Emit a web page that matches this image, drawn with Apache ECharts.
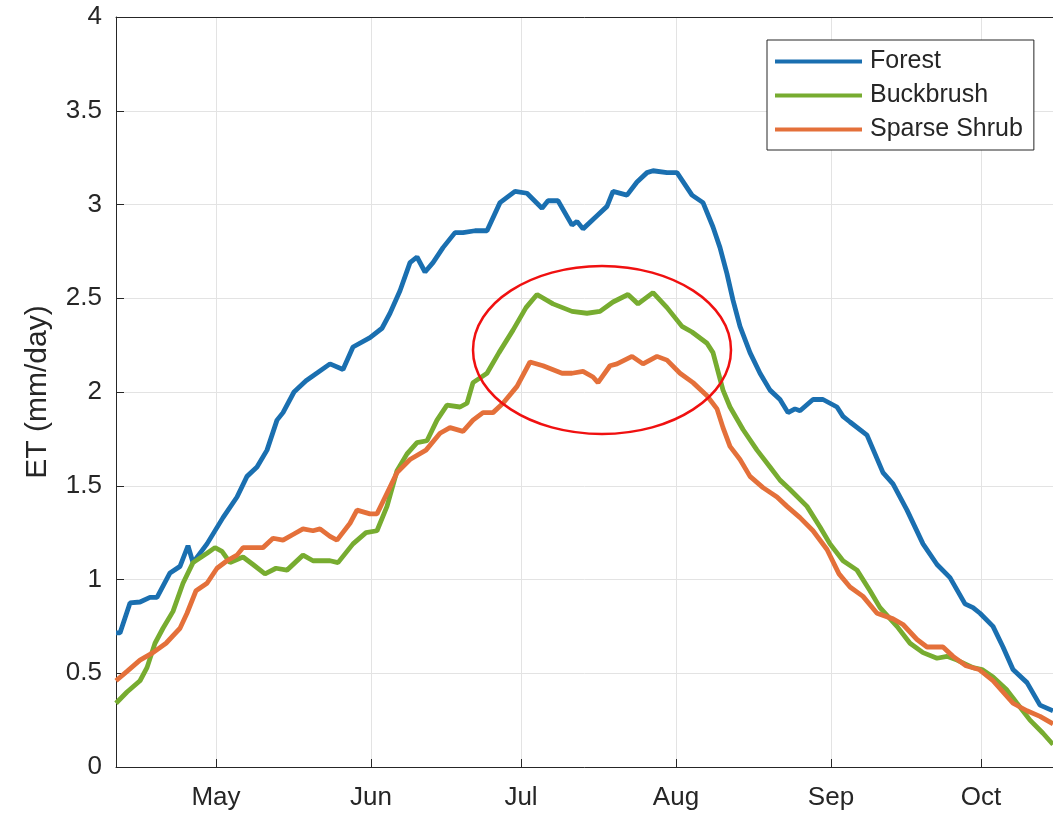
<!DOCTYPE html>
<html>
<head>
<meta charset="utf-8">
<script src="https://cdn.jsdelivr.net/npm/echarts@6/dist/echarts.min.js"></script>
<style>
  html, body { margin: 0; padding: 0; background: #fff; }
  #main { width: 1053px; height: 818px; }
</style>
</head>
<body>
<div id="main"></div>
<script>
// days counted from 11 Apr
const forestDays = [0, 0.8, 2.8, 4.8, 6.8, 8.2, 10.8, 12.8, 14.4, 15.4, 18.2, 21.4, 24.2, 26.2, 28.2, 30.2, 32.2, 33.4, 35.6, 38,
  42.8, 45.4, 47.4, 50.8, 53.2, 54.8, 56.8, 58.8, 60.2, 61.8, 63.4, 65.4, 67.8, 69.4, 71.8, 74.2, 76.8, 79.8, 82.2, 85.2,
  86.4, 88.4, 91.2, 92.2, 93.4, 96.2, 98.2, 99.4, 102.2, 104.2, 106.2, 107.4, 110.2, 112.2, 115.2, 117.4, 119.4, 120.8, 122.2, 123.4,
  124.8, 126.8, 128.8, 130.8, 132.8, 134.4, 135.8, 136.8, 139.4, 141.4, 144.2, 145.4, 146.8, 150.2, 153.4, 155.4, 158.2, 161.4, 164.2, 166.8,
  169.8, 171.4, 172.8, 175.4, 177.4, 179.4, 182.2, 184.8, 187.4];
const forestET = [0.715, 0.715, 0.875, 0.88, 0.905, 0.905, 1.035, 1.07, 1.18, 1.09, 1.19, 1.33, 1.44, 1.55, 1.60, 1.69, 1.85, 1.89, 2.00, 2.06,
  2.15, 2.12, 2.24, 2.29, 2.34, 2.42, 2.54, 2.69, 2.72, 2.64, 2.69, 2.77, 2.85, 2.85, 2.86, 2.86, 3.01, 3.07, 3.06, 2.98,
  3.02, 3.02, 2.89, 2.91, 2.87, 2.94, 2.99, 3.07, 3.05, 3.12, 3.17, 3.18, 3.17, 3.17, 3.05, 3.01, 2.88, 2.77, 2.63, 2.49,
  2.35, 2.21, 2.10, 2.01, 1.96, 1.89, 1.91, 1.90, 1.96, 1.96, 1.92, 1.87, 1.84, 1.77, 1.57, 1.51, 1.37, 1.19, 1.08, 1.01,
  0.87, 0.85, 0.82, 0.75, 0.64, 0.52, 0.45, 0.33, 0.30];

const buckDays = [0, 2.2, 4.8, 6.2, 7.8, 9.4, 11.4, 13.4, 15.4, 18.2, 19.8, 21.2, 22.8, 25.4, 27.4, 29.8, 32, 34.2, 37.4, 39.4,
  42.8, 44.4, 47.4, 50, 52.2, 54.2, 56.2, 58.2, 60.2, 62.2, 64.2, 66.2, 68.8, 70.2, 71.4, 74.2, 76.6, 79.4, 82, 84.2,
  87.4, 91.2, 94.2, 96.8, 99.4, 102.4, 104.4, 107.4, 110.2, 113.2, 115.2, 118.2, 119.4, 121.4, 122.8, 125.4, 128.2, 130.8, 132.8, 134.8,
  138.2, 140.8, 142.8, 145.4, 148.2, 150.8, 152.8, 156.2, 158.8, 161.4, 164.2, 166.2, 168.2, 171.4, 173.2, 175.4, 178.2, 180.2, 182.8, 185.4,
  187.4];
const buckET = [0.34, 0.40, 0.46, 0.53, 0.66, 0.74, 0.83, 0.98, 1.09, 1.14, 1.17, 1.15, 1.09, 1.12, 1.08, 1.03, 1.06, 1.05, 1.13, 1.10,
  1.10, 1.09, 1.19, 1.25, 1.26, 1.39, 1.58, 1.67, 1.73, 1.74, 1.85, 1.93, 1.92, 1.94, 2.05, 2.10, 2.21, 2.33, 2.45, 2.52,
  2.47, 2.43, 2.42, 2.43, 2.48, 2.52, 2.47, 2.53, 2.45, 2.35, 2.32, 2.26, 2.21, 2.01, 1.92, 1.80, 1.69, 1.60, 1.53, 1.48,
  1.39, 1.28, 1.19, 1.10, 1.05, 0.94, 0.85, 0.75, 0.66, 0.61, 0.58, 0.59, 0.57, 0.53, 0.52, 0.48, 0.41, 0.34, 0.25, 0.18,
  0.12];

const shrubDays = [0, 2.2, 4.8, 7.4, 10, 12.8, 14.2, 16, 18.2, 20.2, 22.2, 24.2, 25.4, 28.2, 29.4, 31.4, 33.4, 35.4, 37.4, 39.4,
  40.8, 42.8, 44.2, 46.8, 48.2, 50.8, 52.2, 54.2, 56.2, 58.8, 62, 64.8, 66.8, 69.4, 71.4, 73.4, 75.4, 77.4, 80.2, 82.8,
  85.4, 89.2, 91.2, 93.4, 95.4, 96.4, 98.8, 100.2, 103.2, 105.4, 108.2, 110.2, 112.8, 115.4, 118.2, 120.2, 121.4, 122.8, 124.8, 126.8,
  129.4, 132.2, 134.2, 136.8, 139.4, 142.2, 144.6, 146.8, 149.4, 152.2, 155.4, 157.4, 160.2, 162.2, 165.4, 167.4, 170, 172.6, 175.4, 179.4,
  182.2, 184.8, 187.4];
const shrubET = [0.46, 0.51, 0.57, 0.61, 0.66, 0.74, 0.82, 0.94, 0.98, 1.06, 1.10, 1.13, 1.17, 1.17, 1.17, 1.22, 1.21, 1.24, 1.27, 1.26,
  1.27, 1.23, 1.21, 1.30, 1.37, 1.35, 1.35, 1.46, 1.57, 1.64, 1.69, 1.78, 1.81, 1.79, 1.85, 1.89, 1.89, 1.94, 2.03, 2.16,
  2.14, 2.10, 2.10, 2.11, 2.08, 2.05, 2.14, 2.15, 2.19, 2.15, 2.19, 2.17, 2.10, 2.05, 1.98, 1.91, 1.81, 1.71, 1.64, 1.55,
  1.49, 1.44, 1.39, 1.33, 1.26, 1.16, 1.03, 0.96, 0.91, 0.82, 0.79, 0.76, 0.68, 0.64, 0.64, 0.59, 0.54, 0.52, 0.46, 0.34,
  0.30, 0.27, 0.23];

const seriesNames = ["Forest", "Buckbrush", "Sparse Shrub"];
const seriesColors = ["#1a6fb0", "#77ac30", "#e4703a"];
const monthNames = ["Jan", "Feb", "Mar", "Apr", "May", "Jun", "Jul", "Aug", "Sep", "Oct", "Nov", "Dec"];

// highlighted region (red ellipse): centre day / ET and half-widths
const ellipseCentre = [97.2, 2.224];
const ellipseRadius = [25.8, 0.448];

const DAY = 86400000;
const startTime = new Date(2019, 3, 11).getTime();
const toTime = (d) => startTime + d * DAY;
const pairs = (days, vals) => days.map((d, i) => [toTime(d), vals[i]]);

const axisColor = "#262626";
const fontFamily = "Liberation Sans, Arial, sans-serif";

const chart = echarts.init(document.getElementById("main"));

chart.setOption({
  animation: false,
  backgroundColor: "#fff",
  textStyle: { fontFamily },
  grid: { left: 116, right: 0, top: 17, bottom: 51 },
  legend: {
    orient: "vertical",
    left: 767,
    top: 40,
    padding: [9, 11, 8, 8],
    itemGap: 9,
    itemWidth: 87,
    itemHeight: 4,
    icon: "rect",
    borderColor: axisColor,
    borderWidth: 1,
    backgroundColor: "#fff",
    textStyle: { fontSize: 25, color: axisColor, fontFamily, lineHeight: 25, padding: [0, 0, 0, 3] },
    data: seriesNames,
  },
  xAxis: [
    {
      type: "time",
      min: toTime(0),
      max: toTime(187.4),
      splitNumber: 6,
      axisLine: { lineStyle: { color: axisColor, width: 1 } },
      axisTick: { inside: true, length: 8, lineStyle: { color: axisColor } },
      axisLabel: {
        fontSize: 26,
        color: axisColor,
        margin: 18,
        formatter: (v) => monthNames[new Date(v).getMonth()],
      },
      splitLine: { show: true, lineStyle: { color: "#e3e3e3", width: 1 } },
    },
    {
      type: "time",
      position: "top",
      min: toTime(0),
      max: toTime(187.4),
      axisLine: { lineStyle: { color: axisColor, width: 1 } },
      axisTick: { show: false },
      axisLabel: { show: false },
      splitLine: { show: false },
    },
  ],
  yAxis: {
    type: "value",
    min: 0,
    max: 4,
    interval: 0.5,
    name: "ET (mm/day)",
    nameLocation: "middle",
    nameRotate: 90,
    nameGap: 63,
    nameTextStyle: { fontSize: 30, color: axisColor, fontFamily },
    axisLine: { show: true, lineStyle: { color: axisColor, width: 1 } },
    axisTick: { show: true, inside: true, length: 8, lineStyle: { color: axisColor } },
    axisLabel: { fontSize: 26, color: axisColor, margin: 14 },
    splitLine: { show: true, lineStyle: { color: "#e3e3e3", width: 1 } },
  },
  series: [
    [forestDays, forestET],
    [buckDays, buckET],
    [shrubDays, shrubET],
  ].map(([d, v], i) => ({
    name: seriesNames[i],
    type: "line",
    data: pairs(d, v),
    showSymbol: false,
    symbol: "none",
    clip: true,
    color: seriesColors[i],
    lineStyle: { width: 4.8, color: seriesColors[i] },
  })),
});

// red ellipse marking the mid-summer plateau
const c = chart.convertToPixel({ gridIndex: 0 }, [toTime(ellipseCentre[0]), ellipseCentre[1]]);
const e = chart.convertToPixel({ gridIndex: 0 }, [
  toTime(ellipseCentre[0] + ellipseRadius[0]),
  ellipseCentre[1] + ellipseRadius[1],
]);
chart.setOption({
  graphic: [
    {
      type: "ellipse",
      shape: { cx: c[0], cy: c[1], rx: Math.abs(e[0] - c[0]), ry: Math.abs(c[1] - e[1]) },
      style: { fill: null, stroke: "#f01010", lineWidth: 2.5 },
      z: 100,
    },
  ],
});
</script>
</body>
</html>
